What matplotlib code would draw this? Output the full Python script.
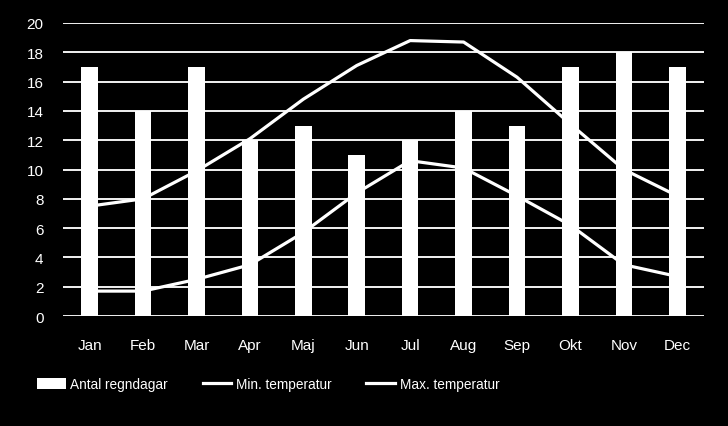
import matplotlib.pyplot as plt
import numpy as np

plt.rcParams['font.family'] = ['Liberation Sans', 'DejaVu Sans']

# Data
manader = ['Jan', 'Feb', 'Mar', 'Apr', 'Maj', 'Jun', 'Jul', 'Aug', 'Sep', 'Okt', 'Nov', 'Dec']
regndagar = [17, 14, 17, 12, 13, 11, 12, 14, 13, 17, 18, 17]
min_temp = [1.7, 1.7, 2.5, 3.5, 5.7, 8.4, 10.6, 10.1, 8.2, 6.2, 3.5, 2.7]
max_temp = [7.5, 8.0, 9.9, 12.1, 14.8, 17.1, 18.8, 18.7, 16.3, 13.1, 10.0, 8.2]

fig = plt.figure(figsize=(7.28, 4.27), dpi=100, facecolor='black')
ax = fig.add_axes([0.0865, 0.2576, 0.8805, 0.6862])
ax.set_facecolor('black')

x = np.arange(len(manader))
b = ax.bar(x, regndagar, width=0.31, color='white', zorder=2, label='Antal regndagar')
l1, = ax.plot(x, min_temp, color='white', linewidth=2.3, zorder=3, label='Min. temperatur')
l2, = ax.plot(x, max_temp, color='white', linewidth=2.3, zorder=3, label='Max. temperatur')

ax.set_xlim(-0.5, len(manader) - 0.5)
ax.set_ylim(0, 20)
ax.set_yticks(range(0, 21, 2))
ax.set_xticks(x)
ax.set_xticklabels(manader)
ax.grid(axis='y', color='#f2f2f2', linewidth=1.4, zorder=0)
ax.set_axisbelow(True)
for s in ax.spines.values():
    s.set_visible(False)
ax.tick_params(axis='both', colors='white', labelsize=11, length=0)
ax.tick_params(axis='y', pad=14)
ax.tick_params(axis='x', pad=16)

fig.legend(handles=[b, l1, l2], loc='center left', bbox_to_anchor=(0.051, 0.098), ncol=3,
           frameon=False, fontsize=9.8, labelcolor='white', handlelength=2.1,
           handletextpad=0.35, columnspacing=2.55, handleheight=0.8,
           borderpad=0, borderaxespad=0)

plt.savefig('out.png', dpi=100, facecolor='black')
